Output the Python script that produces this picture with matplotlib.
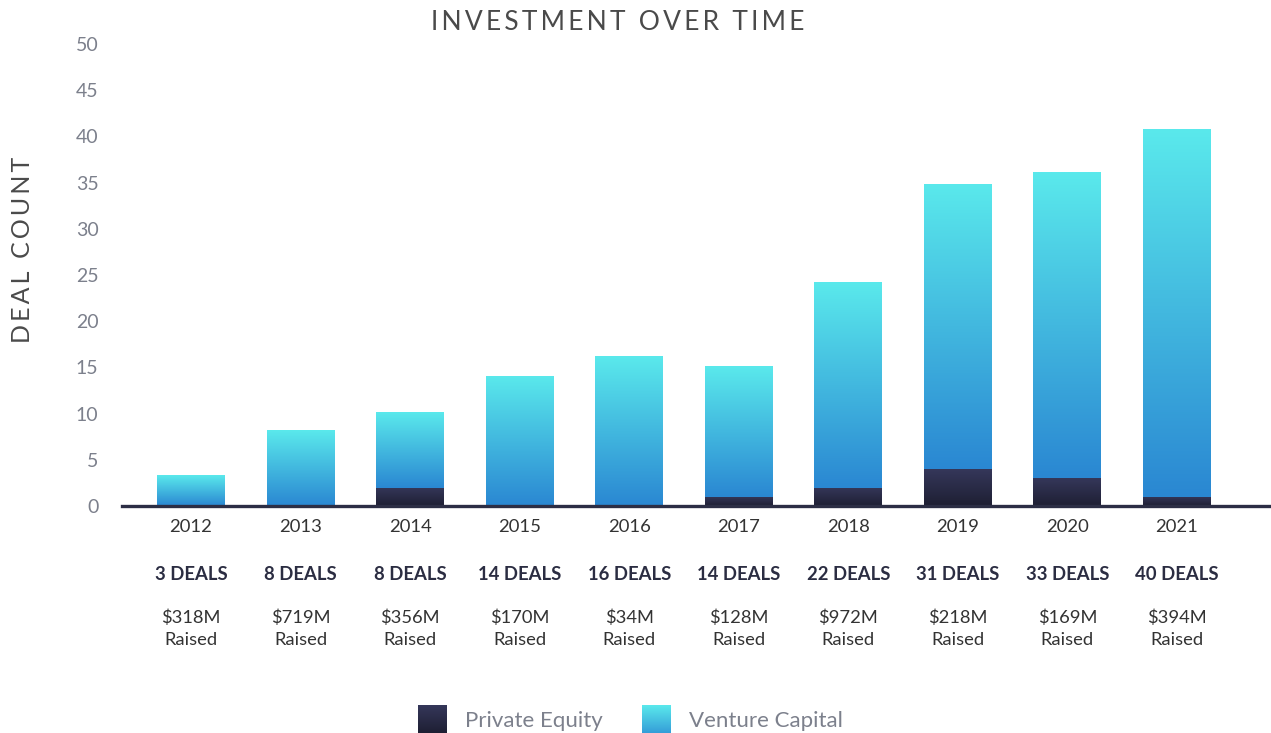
import numpy as np
import matplotlib.pyplot as plt
from matplotlib.colors import LinearSegmentedColormap

years = ['2012', '2013', '2014', '2015', '2016', '2017', '2018', '2019', '2020', '2021']
private_equity = [0, 0, 2, 0, 0, 1, 2, 4, 3, 1]
venture_capital = [3.3, 8.2, 8.2, 14.1, 16.2, 14.1, 22.2, 30.9, 33.1, 39.8]
deals = ['3 DEALS', '8 DEALS', '8 DEALS', '14 DEALS', '16 DEALS', '14 DEALS',
         '22 DEALS', '31 DEALS', '33 DEALS', '40 DEALS']
raised = ['$318M', '$719M', '$356M', '$170M', '$34M', '$128M',
          '$972M', '$218M', '$169M', '$394M']

plt.rcParams['font.family'] = ['Lato', 'DejaVu Sans']

vc_cmap = LinearSegmentedColormap.from_list('vc', ['#2a87d2', '#5ae9ec'])
pe_cmap = LinearSegmentedColormap.from_list('pe', ['#1e1f33', '#35375a'])
grad = np.linspace(0, 1, 256).reshape(-1, 1)


def fill_gradient(ax, bars, cmap):
    # paint each bar with a vertical gradient clipped to the bar shape
    for bar in bars:
        x, y = bar.get_xy()
        w, h = bar.get_width(), bar.get_height()
        if h <= 0:
            continue
        im = ax.imshow(grad, cmap=cmap, aspect='auto', origin='lower',
                       extent=[x, x + w, y, y + h], zorder=2)
        im.set_clip_path(bar)


fig = plt.figure(figsize=(12.71, 7.33), dpi=100)
ax = fig.add_axes([0.096, 0.3097, 0.904, 0.6303])

x = np.arange(len(years))
pe_bars = ax.bar(x, private_equity, width=0.62, color='none', linewidth=0)
vc_bars = ax.bar(x, venture_capital, width=0.62, bottom=private_equity,
                 color='none', linewidth=0)
fill_gradient(ax, pe_bars, pe_cmap)
fill_gradient(ax, vc_bars, vc_cmap)

ax.set_xlim(-0.63, 9.86)
ax.set_ylim(0, 50)
ax.set_yticks(range(0, 51, 5))
ax.set_xticks([])
ax.tick_params(axis='y', length=0, pad=17, labelsize=14, labelcolor='#7c808c')
for s in ['top', 'right', 'left']:
    ax.spines[s].set_visible(False)
ax.spines['bottom'].set_color('#2c2e45')
ax.spines['bottom'].set_linewidth(2.4)

# labels under each bar
for i in range(len(years)):
    ax.text(i, -2.3, years[i], ha='center', va='center', fontsize=13.3,
            color='#333333', clip_on=False)
    ax.text(i, -7.45, deals[i], ha='center', va='center', fontsize=13.3,
            fontweight='bold', color='#2b2d42', clip_on=False)
    ax.text(i, -12.05, raised[i], ha='center', va='center', fontsize=13.2,
            color='#333333', clip_on=False)
    ax.text(i, -14.45, 'Raised', ha='center', va='center', fontsize=13.2,
            color='#333333', clip_on=False)

sp = '\u2009'
fig.text(0.486, 0.969, sp.join('INVESTMENT OVER TIME'), ha='center', va='center',
         fontsize=19, color='#4a4a4a')
fig.text(0.018, 0.659, sp.join('DEAL COUNT'), ha='center', va='center',
         rotation=90, fontsize=18, color='#4a4a4a')

# legend
lx = [0.329, 0.505]
names = ['Private Equity', 'Venture Capital']
cmaps = [pe_cmap, vc_cmap]
for i in range(2):
    lax = fig.add_axes([lx[i], 0.0, 0.0228, 0.038])
    lax.imshow(grad, cmap=cmaps[i], aspect='auto', origin='lower',
               vmin=-0.3 if i == 1 else 0, vmax=1)
    lax.axis('off')
    fig.text(lx[i] + 0.037, 0.016, names[i], ha='left', va='center',
             fontsize=16, color='#7c808c')

fig.savefig('out.png', dpi=100)
